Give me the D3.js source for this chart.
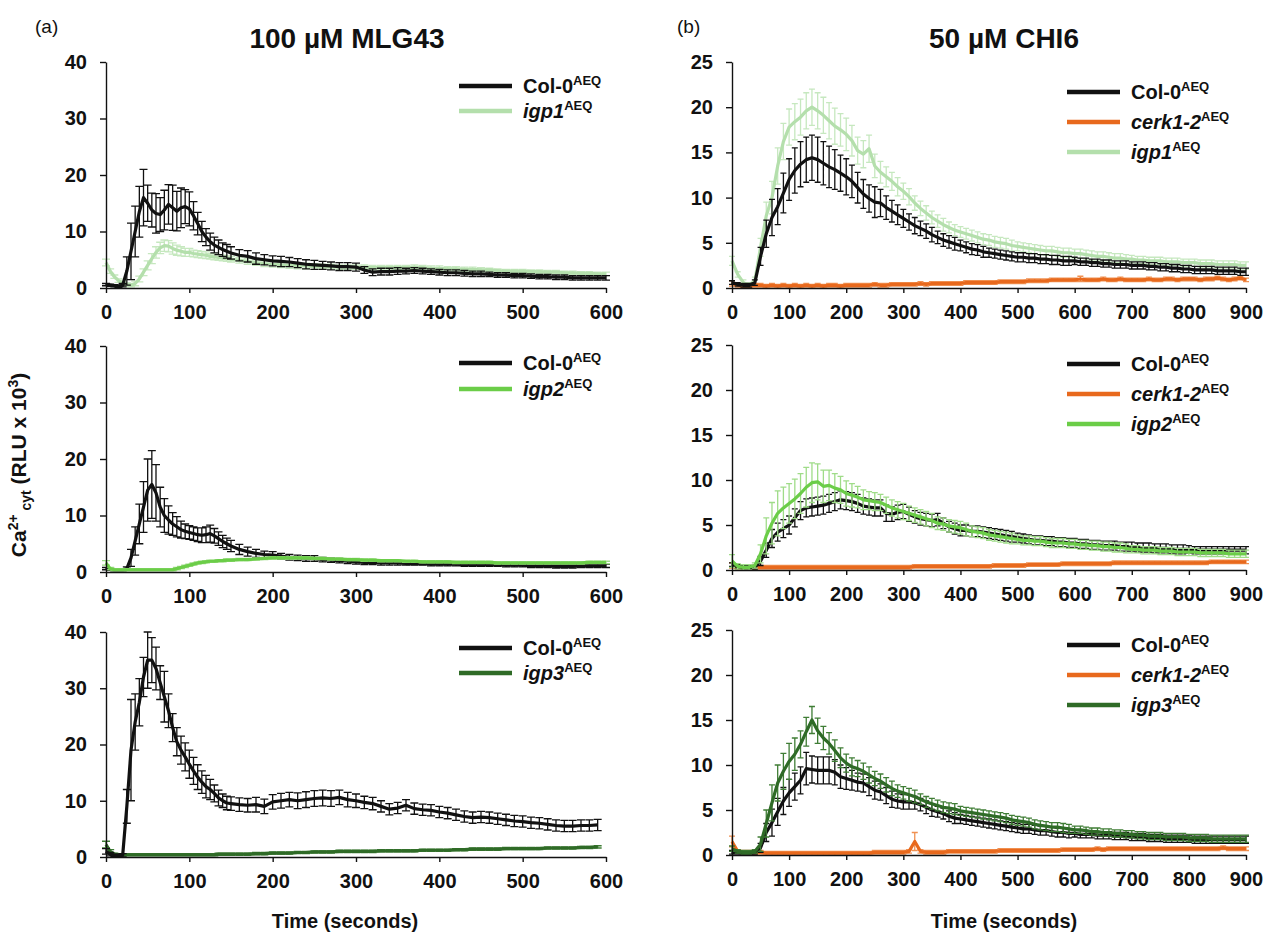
<!DOCTYPE html>
<html>
<head>
<meta charset="utf-8">
<script src="https://cdn.jsdelivr.net/npm/d3@7"></script>
<style>
  body { margin: 0; background: #fff; }
  svg text { font-family: "Liberation Sans", Arial, Helvetica, sans-serif; fill: #111; }
</style>
</head>
<body>
<svg id="chart" width="1266" height="935"></svg>
<script>
// ---- time points (seconds) ----
const timeMLG = [0,5,10,15,20,25,30,35,40,45,50,55,60,65,70,75,80,85,90,95,100,105,110,115,120,125,130,135,140,145,150,
  160,170,180,190,200,210,220,230,240,250,260,270,280,290,300,310,320,330,340,350,360,370,380,390,400,
  410,420,430,440,450,460,470,480,490,500,510,520,530,540,550,560,570,580,590,600];
const timeCHI = [0,10,20,30,40,50,60,70,80,90,100,110,120,130,140,150,160,170,180,190,200,210,220,230,240,250,260,270,280,290,
  300,310,320,330,340,350,360,370,380,390,400,410,420,430,440,450,460,470,480,490,500,510,520,530,540,550,560,570,580,590,
  600,610,620,630,640,650,660,670,680,690,700,710,720,730,740,750,760,770,780,790,800,810,820,830,840,850,860,870,880,890,900];

// ---- 100 uM MLG43 (a) ----
const mlgCol0A = [0.6,0.5,0.4,0.3,0.5,3,6.5,10,13.5,16,15,13.8,13.2,13,13.8,14.8,14.2,13.6,14.2,14.4,14,12.8,11.4,10,9,8.2,7.6,7.2,6.8,6.5,6.2,
  5.8,5.6,5.2,5,4.8,4.7,4.6,4.4,4.2,4.1,4,3.9,3.8,3.8,3.7,3.2,2.8,2.9,2.9,3,3,3.1,3,2.9,2.8,2.7,2.7,2.6,2.5,2.5,
  2.4,2.3,2.3,2.2,2.2,2.1,2,2,1.9,1.9,1.8,1.8,1.8,1.8,1.8];
const mlgCol0AErr = [0.2,0.2,0.2,0.2,0.3,2.5,5,4.5,4.5,5,3.2,3,3.5,3,3.5,3.5,4,3.5,3.5,3,3,2.5,2,1.8,1.5,1.5,1.4,1.3,1.2,1.2,1.1,
  1,1,1,0.9,0.9,0.9,0.8,0.8,0.8,0.8,0.7,0.7,0.7,0.7,0.7,0.6,0.6,0.6,0.6,0.6,0.5,0.5,0.5,0.5,0.5,0.5,0.5,0.5,0.5,0.5,
  0.4,0.4,0.4,0.4,0.4,0.4,0.4,0.4,0.4,0.4,0.4,0.4,0.4,0.4,0.4];
const mlgIgp1 = [4.5,3,2,1.3,0.9,0.6,0.5,0.8,1.6,2.8,4,5.2,6.3,7.1,7.5,7.4,7,6.7,6.5,6.3,6.3,6.1,6,5.9,5.8,5.6,5.5,5.4,5.3,5.2,5.1,
  4.9,4.7,4.5,4.3,4.2,4.1,4,3.9,3.9,3.8,3.8,3.8,3.7,3.7,3.7,3.7,3.6,3.6,3.6,3.6,3.6,3.7,3.6,3.5,3.5,3.4,3.4,3.3,3.3,3.2,
  3.2,3.1,3,3,3,2.9,2.9,2.8,2.8,2.7,2.7,2.6,2.6,2.5,2.5];
const mlgIgp1Err = [0.6,0.4,0.3,0.3,0.3,0.3,0.3,0.4,0.5,0.6,0.8,0.9,1,1,1,1,1,0.9,0.8,0.7,0.7,0.6,0.6,0.6,0.6,0.5,0.5,0.5,0.5,0.5,0.5,
  0.5,0.5,0.5,0.5,0.5,0.5,0.5,0.5,0.5,0.5,0.4,0.4,0.4,0.4,0.4,0.4,0.4,0.4,0.4,0.4,0.4,0.4,0.4,0.4,0.4,0.4,0.4,0.4,0.4,0.4,
  0.3,0.3,0.3,0.3,0.3,0.3,0.3,0.3,0.3,0.3,0.3,0.3,0.3,0.3,0.3];

const mlgCol0B = [0.6,0.5,0.4,0.4,0.4,0.6,2.5,5.5,8.5,11.5,14.5,15.5,14,11.5,10,9.2,8.5,8,7.5,7.2,7,6.8,6.6,6.5,6.6,6.8,6.4,5.9,5.4,5,4.6,
  4,3.6,3.3,3.1,3,2.8,2.6,2.5,2.4,2.4,2.2,2.1,2,1.9,1.8,1.7,1.7,1.6,1.6,1.6,1.5,1.5,1.5,1.4,1.4,1.4,1.4,1.3,1.3,1.3,
  1.3,1.3,1.2,1.2,1.2,1.1,1.1,1.1,1,1,1,1.1,1.1,1.1,1.1];
const mlgCol0BErr = [0.2,0.2,0.2,0.2,0.2,0.3,1.5,2.5,3.5,4.5,5.5,6,5,3.5,3,2.5,2,1.8,1.5,1.3,1.2,1.2,1.2,1.3,1.4,1.5,1.3,1.2,1.1,1,1,
  0.9,0.8,0.7,0.6,0.6,0.5,0.5,0.5,0.5,0.5,0.4,0.4,0.4,0.4,0.4,0.4,0.4,0.4,0.4,0.4,0.3,0.3,0.3,0.3,0.3,0.3,0.3,0.3,0.3,0.3,
  0.3,0.3,0.3,0.3,0.3,0.3,0.3,0.3,0.3,0.3,0.3,0.3,0.3,0.3,0.3];
const mlgIgp2 = [1.6,0.6,0.4,0.4,0.4,0.4,0.4,0.4,0.4,0.4,0.4,0.4,0.4,0.4,0.4,0.4,0.4,0.6,0.8,1,1.2,1.4,1.6,1.7,1.8,1.9,1.9,2,2,2.1,2.1,
  2.2,2.2,2.3,2.4,2.5,2.5,2.5,2.5,2.5,2.4,2.4,2.3,2.3,2.2,2.2,2.1,2.1,2,2,2,1.9,1.9,1.8,1.8,1.8,1.8,1.7,1.7,1.7,1.7,
  1.7,1.6,1.6,1.6,1.6,1.6,1.6,1.6,1.6,1.6,1.6,1.6,1.7,1.7,1.7];
const mlgIgp2Err = [0.4,0.2,0.2,0.2,0.2,0.2,0.2,0.2,0.2,0.2,0.2,0.2,0.2,0.2,0.2,0.2,0.2,0.2,0.2,0.2,0.2,0.2,0.2,0.2,0.2,0.2,0.2,0.2,0.2,0.2,0.2,
  0.2,0.2,0.2,0.2,0.2,0.2,0.2,0.2,0.2,0.2,0.2,0.2,0.2,0.2,0.2,0.2,0.2,0.2,0.2,0.2,0.2,0.2,0.2,0.2,0.2,0.2,0.2,0.2,0.2,0.2,
  0.2,0.2,0.2,0.2,0.2,0.2,0.2,0.2,0.2,0.2,0.2,0.2,0.2,0.2,0.2];

const mlgCol0C = [1,0.5,0.3,0.3,0.3,9,19,24,27.5,32,35,35,33.5,31,28.5,26,23,20.5,19,17.8,16.5,15.3,14.2,13.3,12.5,12,11.3,10.5,10,9.6,9.5,
  9.3,9.2,9.3,9,9.8,10,10.2,10,10.2,10.4,10.5,10.4,10.6,10.2,10,9.7,9.5,9,8.5,8.7,9.2,8.6,8.4,8.3,8,7.8,7.5,7.2,7,7.1,
  7,6.8,6.6,6.4,6.3,6.1,6,5.8,5.6,5.5,5.5,5.6,5.6,5.7,null];
const mlgCol0CErr = [0.5,0.3,0.2,0.2,0.3,3,9,5,4.2,3.5,5,4,3.8,3,4.5,3,2.5,2.5,2.5,2.5,2.5,2.4,2.2,2,2,1.8,1.5,1.4,1.2,1.2,1.2,
  1.2,1.2,1.3,1.3,1.3,1.3,1.3,1.4,1.4,1.4,1.4,1.4,1.3,1.3,1.2,1.1,1.1,1,1,1,1,1,1,1,1,1,1,1,1,1,
  1,1,1,1,1,1,1,1,1,1,1,1,1,1,null];
const mlgIgp3 = [2.2,1,0.5,0.4,0.4,0.4,0.4,0.4,0.4,0.4,0.4,0.4,0.4,0.4,0.4,0.4,0.4,0.4,0.4,0.4,0.4,0.4,0.4,0.4,0.4,0.4,0.4,0.5,0.5,0.5,0.5,
  0.5,0.5,0.6,0.6,0.7,0.7,0.7,0.8,0.8,0.9,0.9,0.9,1,1,1,1,1,1.1,1.1,1.1,1.1,1.1,1.2,1.2,1.2,1.2,1.3,1.3,1.4,1.4,
  1.4,1.4,1.5,1.5,1.5,1.5,1.5,1.6,1.6,1.6,1.6,1.7,1.7,1.8,null];
const mlgIgp3Err = [0.6,0.3,0.2,0.2,0.2,0.2,0.2,0.2,0.2,0.2,0.2,0.2,0.2,0.2,0.2,0.2,0.2,0.2,0.2,0.2,0.2,0.2,0.2,0.2,0.2,0.2,0.2,0.2,0.2,0.2,0.2,
  0.2,0.2,0.2,0.2,0.2,0.2,0.2,0.2,0.2,0.2,0.2,0.2,0.2,0.2,0.2,0.2,0.2,0.2,0.2,0.2,0.2,0.2,0.2,0.2,0.2,0.2,0.2,0.2,0.2,0.2,
  0.2,0.2,0.2,0.2,0.2,0.2,0.2,0.2,0.2,0.2,0.2,0.2,0.2,0.2,null];

// ---- 50 uM CHI6 (b) ----
const chiCol0A = [0.6,0.4,0.3,0.3,0.6,3.5,6,7.8,9,10.5, 12,13,13.7,14.2,14.4,14.2,13.8,13.4,13.1,12.7,
  12.3,11.8,11.1,10.4,9.9,9.5,9.4,8.9,8.5,8.1, 7.7,7.3,6.9,6.6,6.3,5.9,5.6,5.3,5.1,4.9,
  4.7,4.5,4.3,4.2,4,3.9,3.8,3.7,3.6,3.5, 3.4,3.4,3.3,3.3,3.2,3.2,3.1,3.1,3,3,
  3,2.9,2.9,2.8,2.8,2.7,2.7,2.6,2.6,2.6, 2.5,2.5,2.5,2.4,2.4,2.3,2.3,2.2,2.2,2.1,
  2.1,2,2,2,2,1.9,1.9,1.9,1.9,1.8, 1.8];
const chiCol0AErr = [0.2,0.2,0.2,0.2,0.3,1,1.5,2,2,2.2, 2.3,2.5,2.5,2.5,2.5,2.5,2.4,2.3,2.2,2,
  2,1.8,1.7,1.6,1.5,1.7,1.5,1.3,1.2,1.1, 1,0.9,0.9,0.8,0.8,0.8,0.7,0.7,0.7,0.7,
  0.6,0.6,0.6,0.6,0.6,0.5,0.5,0.5,0.5,0.5, 0.5,0.5,0.5,0.5,0.5,0.5,0.5,0.5,0.5,0.5,
  0.4,0.4,0.4,0.4,0.4,0.4,0.4,0.4,0.4,0.4, 0.4,0.4,0.4,0.4,0.4,0.4,0.4,0.4,0.4,0.4,
  0.4,0.4,0.4,0.4,0.4,0.4,0.4,0.4,0.4,0.4, 0.4];
const chiIgp1 = [3,1.5,0.6,0.3,0.8,4.5,8,10,13.5,16.2, 17.8,18.4,18.9,19.6,20,19.6,19.1,18.5,17.9,17.5,
  17,16.3,15.2,14.8,15.4,13.5,12.8,12.3,11.8,11.2, 10.7,10.1,9.4,8.8,8.3,7.8,7.4,7,6.7,6.4,
  6.2,6,5.8,5.6,5.4,5.3,5.1,5,4.9,4.7, 4.6,4.5,4.4,4.3,4.2,4.1,4.1,4,3.9,3.9,
  3.8,3.8,3.7,3.6,3.5,3.5,3.4,3.3,3.3,3.2, 3.2,3.1,3.1,3,3,3,2.9,2.9,2.9,2.8,
  2.8,2.8,2.7,2.7,2.7,2.6,2.6,2.6,2.6,2.5, 2.5];
const chiIgp1Err = [0.5,0.3,0.3,0.3,0.4,1,1.5,1.8,2,2, 2,2,2,2,2,2,2,2,2,1.8,
  1.8,1.7,1.5,1.5,1.5,1.3,1.2,1.1,1,1, 0.9,0.9,0.8,0.8,0.8,0.7,0.7,0.7,0.6,0.6,
  0.6,0.6,0.6,0.6,0.6,0.6,0.6,0.6,0.6,0.6, 0.5,0.5,0.5,0.5,0.5,0.5,0.5,0.5,0.5,0.5,
  0.5,0.5,0.5,0.5,0.5,0.5,0.5,0.5,0.5,0.5, 0.4,0.4,0.4,0.4,0.4,0.4,0.4,0.4,0.4,0.4,
  0.4,0.4,0.4,0.4,0.4,0.4,0.4,0.4,0.4,0.4, 0.4];
const chiCerkA = [0.5,0.3,0.2,0.2,0.3,0.3,0.2,0.3,0.2,0.3, 0.2,0.3,0.2,0.3,0.2,0.3,0.2,0.3,0.3,0.2,
  0.3,0.3,0.3,0.3,0.3,0.4,0.3,0.3,0.4,0.4, 0.4,0.4,0.4,0.5,0.4,0.5,0.5,0.5,0.5,0.5,
  0.5,0.6,0.6,0.6,0.6,0.6,0.6,0.7,0.7,0.7, 0.7,0.7,0.8,0.8,0.8,0.8,0.9,0.9,0.9,0.9,
  0.9,1,0.9,0.9,0.9,1,0.9,0.9,1,0.9, 0.9,0.9,0.9,1,0.9,0.9,1,1,0.9,1,
  1,1,0.9,1,1,1.1,1,0.9,1,1.1, 0.9];
const chiCerkAErr = [0.3,0.2,0.2,0.2,0.2,0.2,0.2,0.2,0.2,0.2, 0.2,0.2,0.2,0.2,0.2,0.2,0.2,0.2,0.2,0.2,
  0.2,0.2,0.2,0.2,0.2,0.2,0.2,0.2,0.2,0.2, 0.2,0.2,0.2,0.2,0.2,0.2,0.2,0.2,0.2,0.2,
  0.2,0.2,0.2,0.2,0.2,0.2,0.2,0.2,0.2,0.2, 0.2,0.2,0.2,0.2,0.2,0.2,0.2,0.2,0.2,0.2,
  0.2,0.3,0.2,0.2,0.2,0.2,0.2,0.2,0.2,0.2, 0.2,0.2,0.2,0.2,0.2,0.2,0.2,0.2,0.2,0.2,
  0.2,0.2,0.2,0.2,0.2,0.2,0.2,0.2,0.2,0.2, 0.2];

const chiCol0B = [0.6,0.4,0.3,0.3,0.3,1,2.2,3.5,4.2,4.6, 5,5.8,6.6,6.9,7,7.1,7.2,7.4,7.6,7.8,
  7.7,7.6,7.4,7.1,7,6.9,6.9,6.3,6.2,6.4, 6.5,6.2,5.9,5.7,5.6,5.5,5.6,5.2,4.8,4.6,
  4.4,4.4,4.3,4.3,4.2,4.1,4,3.9,3.8,3.7, 3.6,3.5,3.4,3.3,3.3,3.2,3.2,3.1,3.1,3,
  3,2.9,2.9,2.8,2.8,2.7,2.7,2.7,2.6,2.6, 2.6,2.5,2.5,2.5,2.4,2.4,2.4,2.3,2.3,2.3,
  2.3,2.2,2.2,2.2,2.2,2.2,2.2,2.2,2.2,2.2, 2.2];
const chiCol0BErr = [0.2,0.2,0.2,0.2,0.2,0.5,0.8,1,1,1, 1,1,1,1,1,1,1,1,1,1,
  1,1,1,0.9,0.9,0.9,0.9,0.9,0.8,0.8, 0.8,0.8,0.7,0.7,0.7,0.7,0.7,0.6,0.6,0.6,
  0.6,0.6,0.6,0.6,0.6,0.6,0.6,0.6,0.6,0.6, 0.5,0.5,0.5,0.5,0.5,0.5,0.5,0.5,0.5,0.5,
  0.5,0.5,0.5,0.5,0.5,0.5,0.5,0.5,0.5,0.5, 0.5,0.5,0.5,0.5,0.5,0.5,0.5,0.5,0.5,0.5,
  0.4,0.4,0.4,0.4,0.4,0.4,0.4,0.4,0.4,0.4, 0.4];
const chiIgp2 = [1,0.4,0.3,0.3,0.5,1.8,3.8,5.2,6.3,6.9, 7.4,7.9,8.5,9.2,9.7,9.8,9.3,9.4,9.1,8.9,
  8.5,8.3,8.1,7.8,7.7,7.6,7.5,7.2,6.9,6.7, 6.5,6.3,6.1,5.9,5.7,5.5,5.2,5.1,4.9,4.8,
  4.7,4.5,4.3,4.2,4.1,3.9,3.8,3.7,3.6,3.5, 3.4,3.3,3.3,3.2,3.2,3.1,3,3,3,2.9,
  2.9,2.8,2.8,2.7,2.7,2.6,2.6,2.5,2.5,2.4, 2.3,2.3,2.2,2.2,2.2,2.1,2.1,2.1,2,2,
  2,2,1.9,1.9,1.9,1.9,1.9,1.8,1.8,1.8, 1.8];
const chiIgp2Err = [0.7,0.3,0.3,0.3,0.3,1,2,2.3,2.5,2.3, 2.2,2.2,2.2,2.2,2.2,2,1.8,1.7,1.6,1.5,
  1.4,1.3,1.2,1.1,1,1,0.9,0.9,0.9,0.9, 0.9,0.8,0.8,0.8,0.8,0.8,0.7,0.7,0.7,0.7,
  0.7,0.7,0.6,0.6,0.6,0.6,0.6,0.6,0.6,0.6, 0.5,0.5,0.5,0.5,0.5,0.5,0.5,0.5,0.5,0.5,
  0.5,0.5,0.5,0.5,0.5,0.5,0.5,0.5,0.5,0.5, 0.4,0.4,0.4,0.4,0.4,0.4,0.4,0.4,0.4,0.4,
  0.4,0.4,0.4,0.4,0.4,0.4,0.4,0.4,0.4,0.4, 0.4];
const chiCerkB = [0.5,0.3,0.2,0.2,0.3,0.3,0.3,0.3,0.3,0.3, 0.3,0.3,0.3,0.3,0.3,0.3,0.3,0.3,0.3,0.3,
  0.3,0.3,0.3,0.3,0.3,0.3,0.3,0.3,0.3,0.3, 0.3,0.3,0.4,0.4,0.4,0.4,0.4,0.4,0.4,0.4,
  0.4,0.4,0.4,0.4,0.4,0.4,0.5,0.5,0.5,0.5, 0.5,0.5,0.6,0.6,0.6,0.6,0.6,0.6,0.7,0.7,
  0.7,0.7,0.7,0.7,0.7,0.7,0.7,0.8,0.8,0.8, 0.8,0.8,0.8,0.8,0.8,0.8,0.8,0.8,0.8,0.8,
  0.8,0.8,0.8,0.8,0.9,0.9,0.9,0.9,0.9,0.9, 0.9];
const chiCerkBErr = [0.3,0.2,0.2,0.2,0.2,0.2,0.2,0.2,0.2,0.2, 0.2,0.2,0.2,0.2,0.2,0.2,0.2,0.2,0.2,0.2,
  0.2,0.2,0.2,0.2,0.2,0.2,0.2,0.2,0.2,0.2, 0.2,0.2,0.2,0.2,0.2,0.2,0.2,0.2,0.2,0.2,
  0.2,0.2,0.2,0.2,0.2,0.2,0.2,0.2,0.2,0.2, 0.2,0.2,0.2,0.2,0.2,0.2,0.2,0.2,0.2,0.2,
  0.2,0.2,0.2,0.2,0.2,0.2,0.2,0.2,0.2,0.2, 0.2,0.2,0.2,0.2,0.2,0.2,0.2,0.2,0.2,0.2,
  0.2,0.2,0.2,0.2,0.2,0.2,0.2,0.2,0.2,0.2, 0.2];

const chiCol0C = [0.3,0.3,0.2,0.2,0.3,0.8,2.5,3.6,4.8,6, 6.9,7.6,8.3,9.6,9.5,9.4,9.4,9.4,9.2,8.7,
  8.5,8.3,8.1,8,7.6,7.2,7,6.6,6.2,6, 5.9,5.9,5.8,5.6,5.3,5,4.8,4.6,4.3,4.1,
  4,3.9,3.8,3.7,3.6,3.5,3.4,3.3,3.2,3.1, 3,2.9,2.9,2.8,2.7,2.7,2.6,2.5,2.5,2.4,
  2.4,2.3,2.3,2.3,2.2,2.2,2.2,2.1,2.1,2.1, 2,2,2,1.9,1.9,1.9,1.8,1.8,1.8,1.8,
  1.8,1.7,1.7,1.7,1.7,1.7,1.7,1.7,1.7,1.7, 1.7];
const chiCol0CErr = [0.2,0.2,0.2,0.2,0.2,0.5,1,1.5,1.5,1.5, 1.5,1.5,1.5,1.8,1.5,1.5,1.5,1.5,1.4,1.3,
  1.2,1.1,1,1,1,1,0.9,0.9,0.9,0.8, 0.8,0.8,0.7,0.7,0.7,0.7,0.6,0.6,0.6,0.6,
  0.5,0.5,0.5,0.5,0.5,0.5,0.5,0.5,0.5,0.5, 0.5,0.5,0.5,0.5,0.5,0.5,0.5,0.5,0.5,0.5,
  0.4,0.4,0.4,0.4,0.4,0.4,0.4,0.4,0.4,0.4, 0.4,0.4,0.4,0.4,0.4,0.4,0.4,0.4,0.4,0.4,
  0.4,0.4,0.4,0.4,0.4,0.4,0.4,0.4,0.4,0.4, 0.4];
const chiIgp3 = [0.7,0.4,0.3,0.3,0.4,1.2,3.5,5.8,8,9.3, 10.4,11.2,12.3,13.7,15,13.8,13,12.4,11.6,10.8,
  10.2,9.8,9.6,9.3,8.9,8.5,8.2,7.8,7.4,7.1, 6.9,6.7,6.5,6.2,5.9,5.7,5.5,5.3,5.2,5.1,
  4.9,4.8,4.7,4.6,4.5,4.4,4.3,4.2,4.1,3.9, 3.8,3.7,3.6,3.4,3.3,3.2,3.1,3.1,3,2.9,
  2.8,2.8,2.7,2.6,2.6,2.5,2.5,2.4,2.4,2.3, 2.3,2.2,2.2,2.1,2.1,2.1,2,2,2,2,
  1.9,1.9,1.9,1.9,1.8,1.8,1.8,1.8,1.8,1.8, 1.8];
const chiIgp3Err = [0.3,0.2,0.2,0.2,0.2,0.8,1.5,2,2,2, 2,1.8,1.5,1.6,1.5,1.4,1.3,1.2,1.2,1.1,
  1,1,0.9,0.9,0.9,0.8,0.8,0.8,0.8,0.7, 0.7,0.7,0.7,0.6,0.6,0.6,0.6,0.6,0.6,0.6,
  0.5,0.5,0.5,0.5,0.5,0.5,0.5,0.5,0.5,0.5, 0.5,0.5,0.5,0.5,0.5,0.5,0.5,0.5,0.5,0.5,
  0.4,0.4,0.4,0.4,0.4,0.4,0.4,0.4,0.4,0.4, 0.4,0.4,0.4,0.4,0.4,0.4,0.4,0.4,0.4,0.4,
  0.4,0.4,0.4,0.4,0.4,0.4,0.4,0.4,0.4,0.4, 0.4];
const chiCerkC = [1.5,0.4,0.3,0.3,0.3,0.3,0.2,0.2,0.2,0.2, 0.2,0.2,0.2,0.2,0.2,0.2,0.2,0.2,0.2,0.2,
  0.2,0.2,0.2,0.2,0.2,0.3,0.3,0.3,0.3,0.3, 0.3,0.4,1.5,0.4,0.3,0.3,0.3,0.3,0.4,0.4,
  0.4,0.4,0.4,0.4,0.4,0.4,0.4,0.5,0.5,0.5, 0.5,0.5,0.5,0.5,0.5,0.5,0.5,0.5,0.6,0.6,
  0.6,0.6,0.6,0.6,0.7,0.6,0.7,0.7,0.7,0.7, 0.7,0.7,0.7,0.7,0.7,0.7,0.7,0.7,0.7,0.7,
  0.7,0.7,0.7,0.7,0.7,0.7,0.8,0.7,0.7,0.7, 0.7];
const chiCerkCErr = [0.6,0.2,0.2,0.2,0.2,0.2,0.2,0.2,0.2,0.2, 0.2,0.2,0.2,0.2,0.2,0.2,0.2,0.2,0.2,0.2,
  0.2,0.2,0.2,0.2,0.2,0.2,0.2,0.2,0.2,0.2, 0.2,0.2,1,0.2,0.2,0.2,0.2,0.2,0.2,0.2,
  0.2,0.2,0.2,0.2,0.2,0.2,0.2,0.2,0.2,0.2, 0.2,0.2,0.2,0.2,0.2,0.2,0.2,0.2,0.2,0.2,
  0.2,0.2,0.2,0.2,0.2,0.2,0.2,0.2,0.2,0.2, 0.2,0.2,0.2,0.2,0.2,0.2,0.2,0.2,0.2,0.2,
  0.2,0.2,0.2,0.2,0.2,0.2,0.2,0.2,0.2,0.2, 0.2];

// ---- tick labels ----
const ticksMLGx = [0,100,200,300,400,500,600];
const ticksCHIx = [0,100,200,300,400,500,600,700,800,900];
const ticksMLGy = [0,10,20,30,40];
const ticksCHIy = [0,5,10,15,20,25];

// line styles per genotype
const col0 = { name: 'Col-0', italic: false, color: '#111111', err: '#111111' };
const cerk = { name: 'cerk1-2', italic: true, color: '#e8691d', err: '#f09050' };
const igp1 = { name: 'igp1', italic: true, color: '#b4dfac', err: '#c6e8bf' };
const igp2 = { name: 'igp2', italic: true, color: '#6bcd48', err: '#9fdc88' };
const igp3 = { name: 'igp3', italic: true, color: '#2f6b27', err: '#3f7d35' };

const panels = [
  { left: 106, right: 606, top: 62, bottom: 288, xMax: 600, yMax: 40, xTicks: ticksMLGx, yTicks: ticksMLGy, time: timeMLG, cap: 8,
    series: [[igp1, mlgIgp1, mlgIgp1Err], [col0, mlgCol0A, mlgCol0AErr]], legend: [col0, igp1], legX: 459, legY: 86, legStep: 25 },
  { left: 106, right: 606, top: 346, bottom: 572, xMax: 600, yMax: 40, xTicks: ticksMLGx, yTicks: ticksMLGy, time: timeMLG, cap: 8,
    series: [[col0, mlgCol0B, mlgCol0BErr], [igp2, mlgIgp2, mlgIgp2Err]], legend: [col0, igp2], legX: 459, legY: 363, legStep: 26 },
  { left: 106, right: 606, top: 632, bottom: 857, xMax: 600, yMax: 40, xTicks: ticksMLGx, yTicks: ticksMLGy, time: timeMLG, cap: 8,
    series: [[igp3, mlgIgp3, mlgIgp3Err], [col0, mlgCol0C, mlgCol0CErr]], legend: [col0, igp3], legX: 459, legY: 648, legStep: 25 },
  { left: 732, right: 1246, top: 62, bottom: 288, xMax: 900, yMax: 25, xTicks: ticksCHIx, yTicks: ticksCHIy, time: timeCHI, cap: 6,
    series: [[igp1, chiIgp1, chiIgp1Err], [cerk, chiCerkA, chiCerkAErr], [col0, chiCol0A, chiCol0AErr]], legend: [col0, cerk, igp1], legX: 1067, legY: 92, legStep: 30 },
  { left: 732, right: 1246, top: 345, bottom: 570, xMax: 900, yMax: 25, xTicks: ticksCHIx, yTicks: ticksCHIy, time: timeCHI, cap: 6,
    series: [[cerk, chiCerkB, chiCerkBErr], [col0, chiCol0B, chiCol0BErr], [igp2, chiIgp2, chiIgp2Err]], legend: [col0, cerk, igp2], legX: 1067, legY: 364, legStep: 30 },
  { left: 732, right: 1246, top: 630, bottom: 855, xMax: 900, yMax: 25, xTicks: ticksCHIx, yTicks: ticksCHIy, time: timeCHI, cap: 6,
    series: [[cerk, chiCerkC, chiCerkCErr], [col0, chiCol0C, chiCol0CErr], [igp3, chiIgp3, chiIgp3Err]], legend: [col0, cerk, igp3], legX: 1067, legY: 645, legStep: 30 }
];

const svg = d3.select('#chart');
svg.append('rect').attr('width', 1266).attr('height', 935).attr('fill', '#fff');

panels.forEach(p => {
  const x = d3.scaleLinear().domain([0, p.xMax]).range([p.left, p.right]);
  const y = d3.scaleLinear().domain([0, p.yMax]).range([p.bottom, p.top]);
  const g = svg.append('g');

  // data first, axes on top like the original
  p.series.forEach(([st, values, errs]) => {
    const pts = p.time.map((t, i) => ({ t: t, v: values[i], e: errs[i] })).filter(d => d.v != null);
    let path = '';
    pts.forEach(d => {
      if (!d.e) return;
      const px = x(d.t), lo = y(Math.max(0, d.v - d.e)), hi = y(d.v + d.e), c = p.cap / 2;
      path += `M${px},${lo}V${hi}M${px - c},${hi}H${px + c}M${px - c},${lo}H${px + c}`;
    });
    g.append('path').attr('d', path).attr('fill', 'none')
      .attr('stroke', st.err).attr('stroke-width', 1.3);
    g.append('path').datum(pts)
      .attr('d', d3.line().x(d => x(d.t)).y(d => y(d.v)))
      .attr('fill', 'none').attr('stroke', st.color)
      .attr('stroke-width', 3.2).attr('stroke-linejoin', 'round');
  });

  const xAxis = g.append('g').attr('transform', `translate(0,${p.bottom})`)
    .call(d3.axisBottom(x).tickValues(p.xTicks).tickSize(5).tickSizeOuter(0).tickPadding(12));
  const yAxis = g.append('g').attr('transform', `translate(${p.left},0)`)
    .call(d3.axisLeft(y).tickValues(p.yTicks).tickSize(6).tickSizeOuter(0).tickPadding(13));
  [xAxis, yAxis].forEach(a => {
    a.selectAll('path, line').attr('stroke', '#111').attr('stroke-width', 1.4);
    a.selectAll('text').attr('font-size', 20).attr('font-weight', 'bold')
      .attr('font-family', '"Liberation Sans", Arial, sans-serif').attr('fill', '#111');
  });

  // legend
  p.legend.forEach((st, i) => {
    const ly = p.legY + i * p.legStep;
    g.append('line').attr('x1', p.legX).attr('x2', p.legX + 53).attr('y1', ly).attr('y2', ly)
      .attr('stroke', st.color).attr('stroke-width', 4.5);
    const t = g.append('text').attr('x', p.legX + 64).attr('y', ly + 7)
      .attr('font-size', 20).attr('font-weight', 'bold');
    t.append('tspan').attr('font-style', st.italic ? 'italic' : 'normal').text(st.name);
    t.append('tspan').attr('font-size', 13).attr('dy', -8).text('AEQ');
  });
});

// titles and labels
svg.append('text').attr('x', 347).attr('y', 48).attr('text-anchor', 'middle')
  .attr('font-size', 28).attr('font-weight', 'bold').text('100 µM MLG43');
svg.append('text').attr('x', 1004).attr('y', 48).attr('text-anchor', 'middle')
  .attr('font-size', 28).attr('font-weight', 'bold').text('50 µM CHI6');
svg.append('text').attr('x', 35).attr('y', 33).attr('font-size', 19).text('(a)');
svg.append('text').attr('x', 677).attr('y', 33).attr('font-size', 19).text('(b)');

[345, 1004].forEach(cx => {
  svg.append('text').attr('x', cx).attr('y', 928).attr('text-anchor', 'middle')
    .attr('font-size', 20).attr('font-weight', 'bold').text('Time (seconds)');
});

const yl = svg.append('text').attr('transform', 'translate(26,465) rotate(-90)')
  .attr('text-anchor', 'middle').attr('font-size', 21).attr('font-weight', 'bold');
yl.append('tspan').text('Ca');
yl.append('tspan').attr('font-size', 14).attr('dy', -8).text('2+');
yl.append('tspan').attr('font-size', 14).attr('dy', 13).text(' cyt');
yl.append('tspan').attr('dy', -5).text(' (RLU x 10');
yl.append('tspan').attr('font-size', 14).attr('dy', -8).text('3');
yl.append('tspan').attr('dy', 8).text(')');
</script>
</body>
</html>
